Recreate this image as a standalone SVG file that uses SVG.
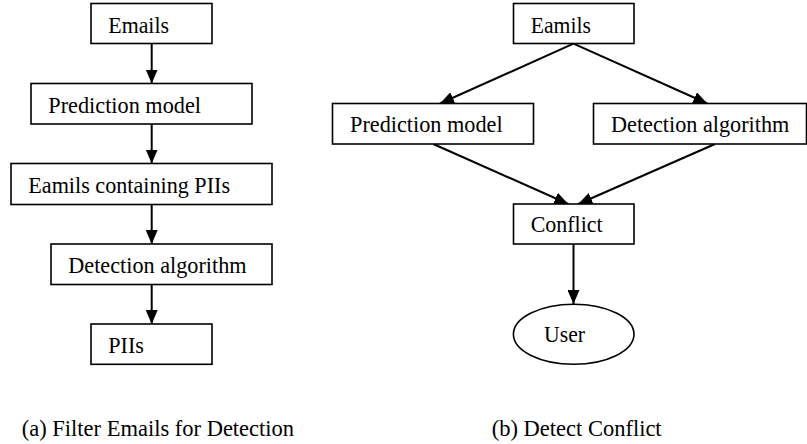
<svg xmlns="http://www.w3.org/2000/svg" width="807" height="444" viewBox="0 0 807 444">
<style>
.box{fill:#fff;stroke:#000;stroke-width:1.6}
.t{font-family:"Liberation Serif","Times New Roman",serif;font-size:22.3px;fill:#000}
.c{stroke:#000;stroke-width:2;fill:none;marker-end:url(#ah)}
</style>
<defs>
<marker id="ah" markerUnits="userSpaceOnUse" markerWidth="14" markerHeight="12" refX="14" refY="6" orient="auto" viewBox="0 0 14 12">
<path d="M0,0 L14,6 L0,12 z" fill="#000"/>
</marker>
</defs>
<rect width="807" height="444" fill="#fff"/>
<g id="connectors">
<line class="c" x1="151.7" y1="44" x2="151.7" y2="83.5"/>
<line class="c" x1="151.7" y1="124" x2="151.7" y2="163.5"/>
<line class="c" x1="151.7" y1="204.5" x2="151.7" y2="244"/>
<line class="c" x1="151.7" y1="284.5" x2="151.7" y2="324"/>
<line class="c" x1="573.5" y1="43.7" x2="440" y2="103.5"/>
<line class="c" x1="573.5" y1="43.7" x2="707.3" y2="103.5"/>
<line class="c" x1="433.3" y1="144" x2="568.3" y2="204"/>
<line class="c" x1="715" y1="144" x2="578.3" y2="204"/>
<line class="c" x1="573.5" y1="244" x2="573.5" y2="304"/>
</g>
<g id="a-emails"><rect class="box" x="91" y="3.5" width="121" height="40"/><text class="t" x="108.3" y="33.3" textLength="60.7" lengthAdjust="spacingAndGlyphs">Emails</text></g>
<g id="a-prediction"><rect class="box" x="31" y="83.5" width="221" height="40.5"/><text class="t" x="48.3" y="112.7" textLength="152.7" lengthAdjust="spacingAndGlyphs">Prediction model</text></g>
<g id="a-containing"><rect class="box" x="11" y="163.5" width="261" height="41"/><text class="t" x="28.3" y="192.5" textLength="201.7" lengthAdjust="spacingAndGlyphs">Eamils containing PIIs</text></g>
<g id="a-detection"><rect class="box" x="51" y="244" width="221" height="40.5"/><text class="t" x="68.3" y="273.3" textLength="178.3" lengthAdjust="spacingAndGlyphs">Detection algorithm</text></g>
<g id="a-piis"><rect class="box" x="91" y="324" width="121" height="40.3"/><text class="t" x="108.3" y="353.3" textLength="35.7" lengthAdjust="spacingAndGlyphs">PIIs</text></g>
<g id="b-emails"><rect class="box" x="513.5" y="3.5" width="120.5" height="40"/><text class="t" x="530.7" y="33" textLength="60.3" lengthAdjust="spacingAndGlyphs">Eamils</text></g>
<g id="b-prediction"><rect class="box" x="332.5" y="103.5" width="201" height="40.5"/><text class="t" x="350" y="132.3" textLength="152.7" lengthAdjust="spacingAndGlyphs">Prediction model</text></g>
<g id="b-detection"><rect class="box" x="593.5" y="103.5" width="213" height="40.5"/><text class="t" x="611" y="132.3" textLength="178.3" lengthAdjust="spacingAndGlyphs">Detection algorithm</text></g>
<g id="b-conflict"><rect class="box" x="513.5" y="204" width="120.5" height="40"/><text class="t" x="530.7" y="232.3" textLength="72" lengthAdjust="spacingAndGlyphs">Conflict</text></g>
<g id="b-user"><ellipse class="box" cx="573.7" cy="334.2" rx="60.3" ry="30"/><text class="t" x="544" y="341.7" textLength="41" lengthAdjust="spacingAndGlyphs">User</text></g>
<g id="captions">
<text class="t" x="21.7" y="436" style="font-size:22.5px">(a) Filter Emails for Detection</text>
<text class="t" x="491.7" y="436" style="font-size:22.5px">(b) Detect Conflict</text>
</g>
</svg>
